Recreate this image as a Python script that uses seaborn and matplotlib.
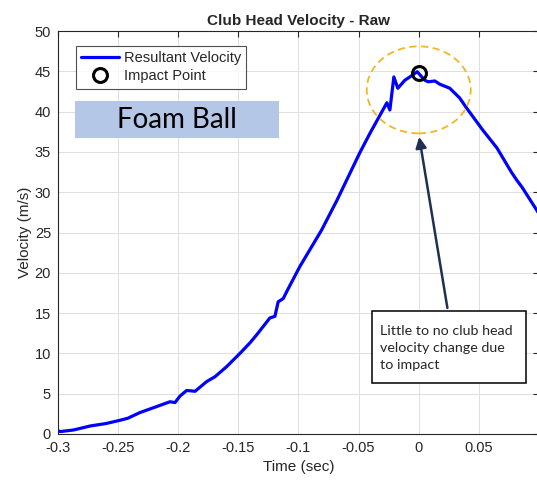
import numpy as np
import pandas as pd
import matplotlib
matplotlib.use("Agg")
import matplotlib.pyplot as plt
import seaborn as sns
from matplotlib.lines import Line2D
from matplotlib.patches import Ellipse, Rectangle

# club head velocity (time in sec, velocity in m/s)
time_s = [-0.300, -0.298, -0.287, -0.273, -0.260, -0.2485, -0.242, -0.232, -0.218,
          -0.2069, -0.2027, -0.1986, -0.193, -0.186, -0.1764, -0.1695, -0.1598,
          -0.1487, -0.1404, -0.1348, -0.1238, -0.1196, -0.1169, -0.1127, -0.109,
          -0.0988, -0.0808, -0.068, -0.049, -0.0406, -0.0265, -0.024, -0.0207,
          -0.0174, -0.0115, -0.0074, -0.0013, 0.005, 0.0078, 0.0134, 0.0175,
          0.0258, 0.034, 0.040, 0.0533, 0.065, 0.077, 0.0815, 0.086, 0.098, 0.100]
velocity = [0.4, 0.3, 0.5, 1.0, 1.3, 1.7, 1.95, 2.65, 3.4,
            4.0, 3.9, 4.7, 5.4, 5.3, 6.5, 7.1, 8.35,
            10.0, 11.3, 12.3, 14.4, 14.6, 16.4, 16.8, 17.9,
            20.8, 25.3, 29.0, 34.9, 37.3, 41.1, 40.2, 44.3,
            42.9, 43.9, 44.3, 44.95, 43.9, 43.7, 43.8, 43.4,
            42.9, 41.7, 40.4, 37.7, 35.5, 32.5, 31.5, 30.6, 27.8, 27.3]

impact_t = [0.0]
impact_v = [44.8]

xticks = [-0.3, -0.25, -0.2, -0.15, -0.1, -0.05, 0, 0.05]
xtick_labels = ['-0.3', '-0.25', '-0.2', '-0.15', '-0.1', '-0.05', '0', '0.05']
yticks = list(range(0, 55, 5))

df = pd.DataFrame({'time': time_s, 'velocity': velocity})

sns.set_style("whitegrid")
plt.rcParams['font.family'] = ['Liberation Sans', 'DejaVu Sans']

fig = plt.figure(figsize=(5.37, 4.90), dpi=100)
ax = fig.add_axes([0.108, 0.1143, 0.8957, 0.8224])

sns.lineplot(data=df, x='time', y='velocity', sort=False, color='#0000ff',
             linewidth=2.3, ax=ax, label='Resultant Velocity')
ax.plot(impact_t, impact_v, 'o', markersize=10, markerfacecolor='none',
        markeredgecolor='black', markeredgewidth=2.2, zorder=5)

# dashed highlight around the impact region
ax.add_patch(Ellipse((0.0, 42.7), 0.0865, 10.8, fill=False, edgecolor='#f2b71f',
                     linestyle=(0, (4, 2.5)), linewidth=1.3, zorder=4))

ax.set_xlim(-0.3, 0.1)
ax.set_ylim(0, 50)
ax.set_xticks(xticks)
ax.set_xticklabels(xtick_labels)
ax.set_yticks(yticks)
ax.grid(True, color='#dedede', linewidth=0.7)
for s in ax.spines.values():
    s.set_visible(True)
    s.set_color('#262626')
    s.set_linewidth(0.8)
ax.tick_params(direction='in', length=4, width=0.8, colors='#262626',
               labelsize=10.5, top=True, right=True, pad=5)
ax.set_xlabel('Time (sec)', fontsize=11, color='#262626')
ax.set_ylabel('Velocity (m/s)', fontsize=11, color='#262626', labelpad=2)
ax.set_title('Club Head Velocity - Raw', fontsize=11, fontweight='bold', pad=4)

handles = [Line2D([0], [0], color='#0000ff', lw=2.3),
           Line2D([0], [0], marker='o', linestyle='none', markersize=10,
                  markerfacecolor='none', markeredgecolor='black', markeredgewidth=2.2)]
leg = ax.legend(handles, ['Resultant Velocity', 'Impact Point'], loc='upper left',
                bbox_to_anchor=(0.038, 0.963), fontsize=10.5, frameon=True, fancybox=False,
                handlelength=2.6, handletextpad=0.3, borderpad=0.35, labelspacing=0.3,
                borderaxespad=0)
leg.get_frame().set_edgecolor('#262626')
leg.get_frame().set_linewidth(0.8)

# "Foam Ball" tag
ax.add_patch(Rectangle((0.0353, 0.7345), 0.4242, 0.0915, transform=ax.transAxes,
                       facecolor='#b4c7e7', edgecolor='none', zorder=3))
ax.text(0.247, 0.778, 'Foam Ball', transform=ax.transAxes, ha='center', va='center',
        fontsize=20, family=['Lato', 'DejaVu Sans'], color='black', zorder=4)

# annotation with arrow
ax.annotate('', xy=(0.0, 37.2), xytext=(0.0242, 15.3),
            arrowprops=dict(arrowstyle='-|>', color='#1f3050', lw=1.8, mutation_scale=16))
ax.add_patch(Rectangle((0.653, 0.1266), 0.32, 0.1786, transform=ax.transAxes,
                       facecolor='white', edgecolor='black', linewidth=1.1, zorder=4))
ax.text(0.669, 0.213, 'Little to no club head\nvelocity change due\nto impact',
        transform=ax.transAxes, ha='left', va='center', fontsize=10.3,
        family=['Lato', 'DejaVu Sans'], linespacing=1.5, zorder=5)

fig.savefig('out.png', dpi=100)
